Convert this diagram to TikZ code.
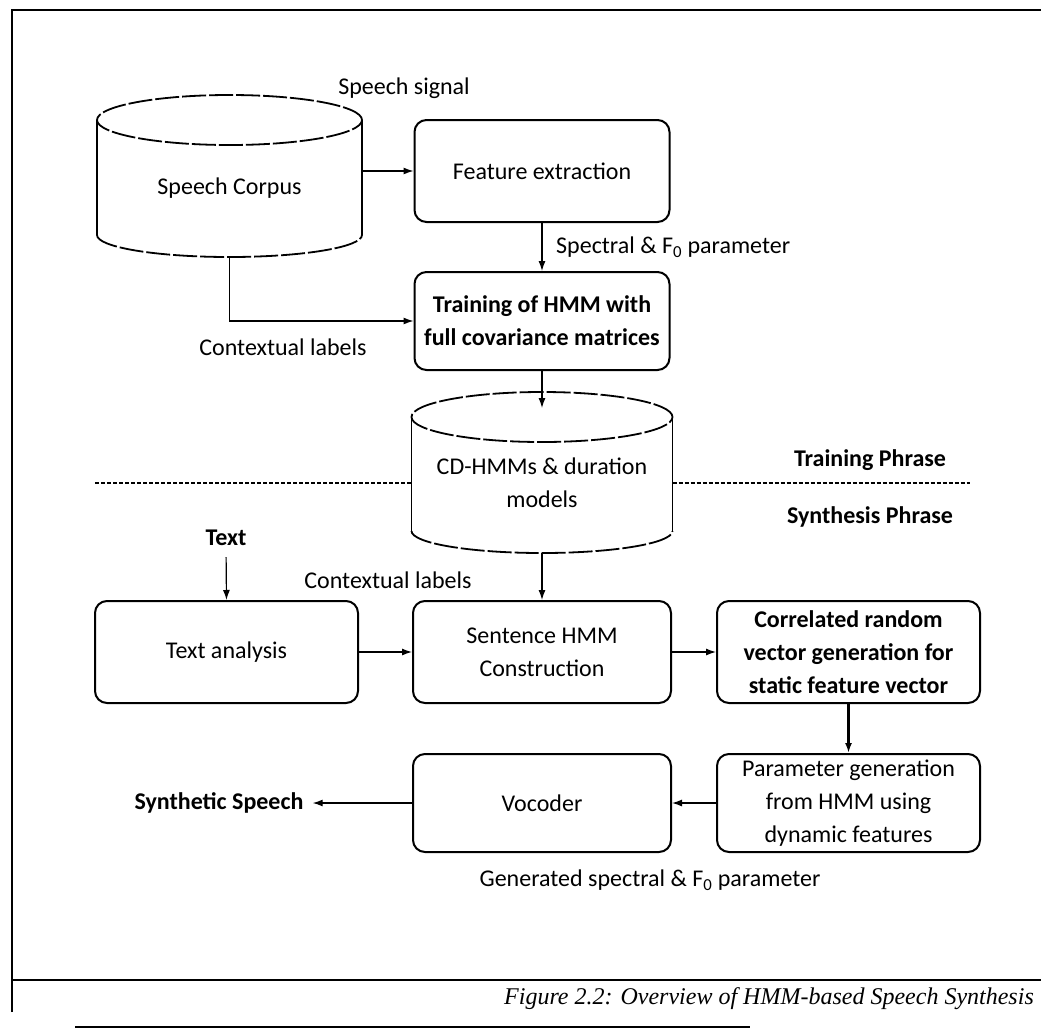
\documentclass[tikz,border=0pt]{standalone}
\usepackage{fontspec}
\setmainfont{Carlito}
\newfontfamily\capfont{Liberation Serif}
\usepackage{tikz}
\usetikzlibrary{arrows.meta,positioning,calc}

\newcommand{\labelsize}{\fontsize{24}{33}\selectfont}

\tikzset{
  box/.style={draw, line width=2pt, rounded corners=12pt, minimum width=258pt, minimum height=102pt, align=center, inner sep=2pt},
  store/.style={minimum width=261pt, minimum height=161pt, inner sep=0pt, outer sep=0pt},
  storeside/.style={line width=1.8pt},
  storerim/.style={line width=1.8pt, dash pattern=on 24pt off 3pt},
  flow/.style={line width=1.2pt, -{Latex[length=10pt,width=7pt]}},
  phase/.style={line width=1.5pt, dash pattern=on 4pt off 2pt},
  frame/.style={line width=2.5pt},
  lbl/.style={align=center, inner sep=1pt},
  strong/.style={font=\labelsize\bfseries},
}

% cylinder drawn round an empty node: name, half width
\newcommand{\storeoutline}[2]{%
  \draw[storeside] ([yshift=-25pt]#1.north west) -- ([yshift=22pt]#1.south west)
                   ([yshift=-25pt]#1.north east) -- ([yshift=22pt]#1.south east);
  \draw[storerim] ([yshift=-25pt]#1.north) ellipse [x radius=#2, y radius=25pt];
  \draw[storerim] ([yshift=22pt]#1.south west) arc [start angle=180, end angle=360, x radius=#2, y radius=22pt];
}

\begin{document}
\begin{tikzpicture}[x=1pt, y=-1pt, font=\labelsize]
  \useasboundingbox (0,0) rectangle (1041,1034);

  % frame
  \draw[frame] (12,1012) -- (12,10) -- (1041,10);
  \draw[frame] (12,980) -- (1041,980);
  \draw[frame] (75,1027) -- (750,1027);

  % training
  \node[store, minimum width=265pt, minimum height=162pt] (corpus) at (229.5,176) {};
  \storeoutline{corpus}{132.5pt}
  \node[lbl, yshift=-12pt] (corpustxt) at (corpus) {Speech Corpus};
  \node[lbl] (sig) at (404,88) {Speech signal};

  \node[box, minimum width=255pt] (feat) at (542,171) {Feature extraction};
  \node[lbl, anchor=west] (spec) at (555,247) {Spectral \& F\textsubscript{0} parameter};
  \node[box, strong, minimum width=255pt, minimum height=98pt] (train) at (542,321) {Training of HMM with\\full covariance matrices};
  \node[lbl] (ctxa) at (283,347) {Contextual labels};

  \node[store] (cd) at (542,472.5) {};
  \storeoutline{cd}{130.5pt}
  \node[lbl, yshift=-10pt] (cdtxt) at (cd) {CD-HMMs \& duration\\models};

  % split between the two phrases
  \coordinate (splitl) at (95,483);
  \coordinate (splitr) at (970,483);
  \draw[phase] (splitl) -- (splitl -| cd.west);
  \draw[phase] (splitr -| cd.east) -- (splitr);
  \node[lbl, strong] (trainph) at (870,460) {Training Phrase};
  \node[lbl, strong] (synph) at (870,517) {Synthesis Phrase};

  % synthesis
  \node[lbl, strong] (txt) at (226,538) {Text};
  \node[lbl] (ctxb) at (388,580) {Contextual labels};
  \node[box, minimum width=263pt] (textan) at (226.5,652) {Text analysis};
  \node[box] (sent) at (542,652) {Sentence HMM\\Construction};
  \node[box, strong, minimum width=263pt] (corr) at (848.5,652) {Correlated random\\vector generation for\\static feature vector};
  \node[box, minimum width=263pt, minimum height=98pt] (param) at (848.5,803) {Parameter generation\\from HMM using\\dynamic features};
  \node[box, minimum height=98pt] (voc) at (542,803) {Vocoder};
  \node[lbl, strong] (synth) at (219,803) {Synthetic Speech};
  \node[lbl] (gen) at (650,880) {Generated spectral \& F\textsubscript{0} parameter};

  \node[lbl, anchor=east, font=\capfont\itshape\fontsize{24}{30}\selectfont] (cap) at (1035,999) {Figure 2.2: Overview of HMM-based Speech Synthesis};

  % connectors
  \draw[flow] (corpus.east |- feat.west) -- (feat.west);
  \draw[flow] (feat.south) -- (train.north);
  \draw[flow] (corpus.south) |- (train.west);
  \draw[flow] (train.south) -- ([yshift=-16pt]cd.north);
  \draw[flow] (cd.south) -- (sent.north);
  \draw[flow, shorten <=10pt] (txt.south) -- (textan.north);
  \draw[flow] (textan.east) -- (sent.west);
  \draw[flow] (sent.east) -- (corr.west);
  \draw[flow, line width=2.2pt] (corr.south) -- (param.north);
  \draw[flow] (param.west) -- (voc.east);
  \draw[flow, shorten >=8pt] (voc.west) -- (synth.east);
\end{tikzpicture}
\end{document}
